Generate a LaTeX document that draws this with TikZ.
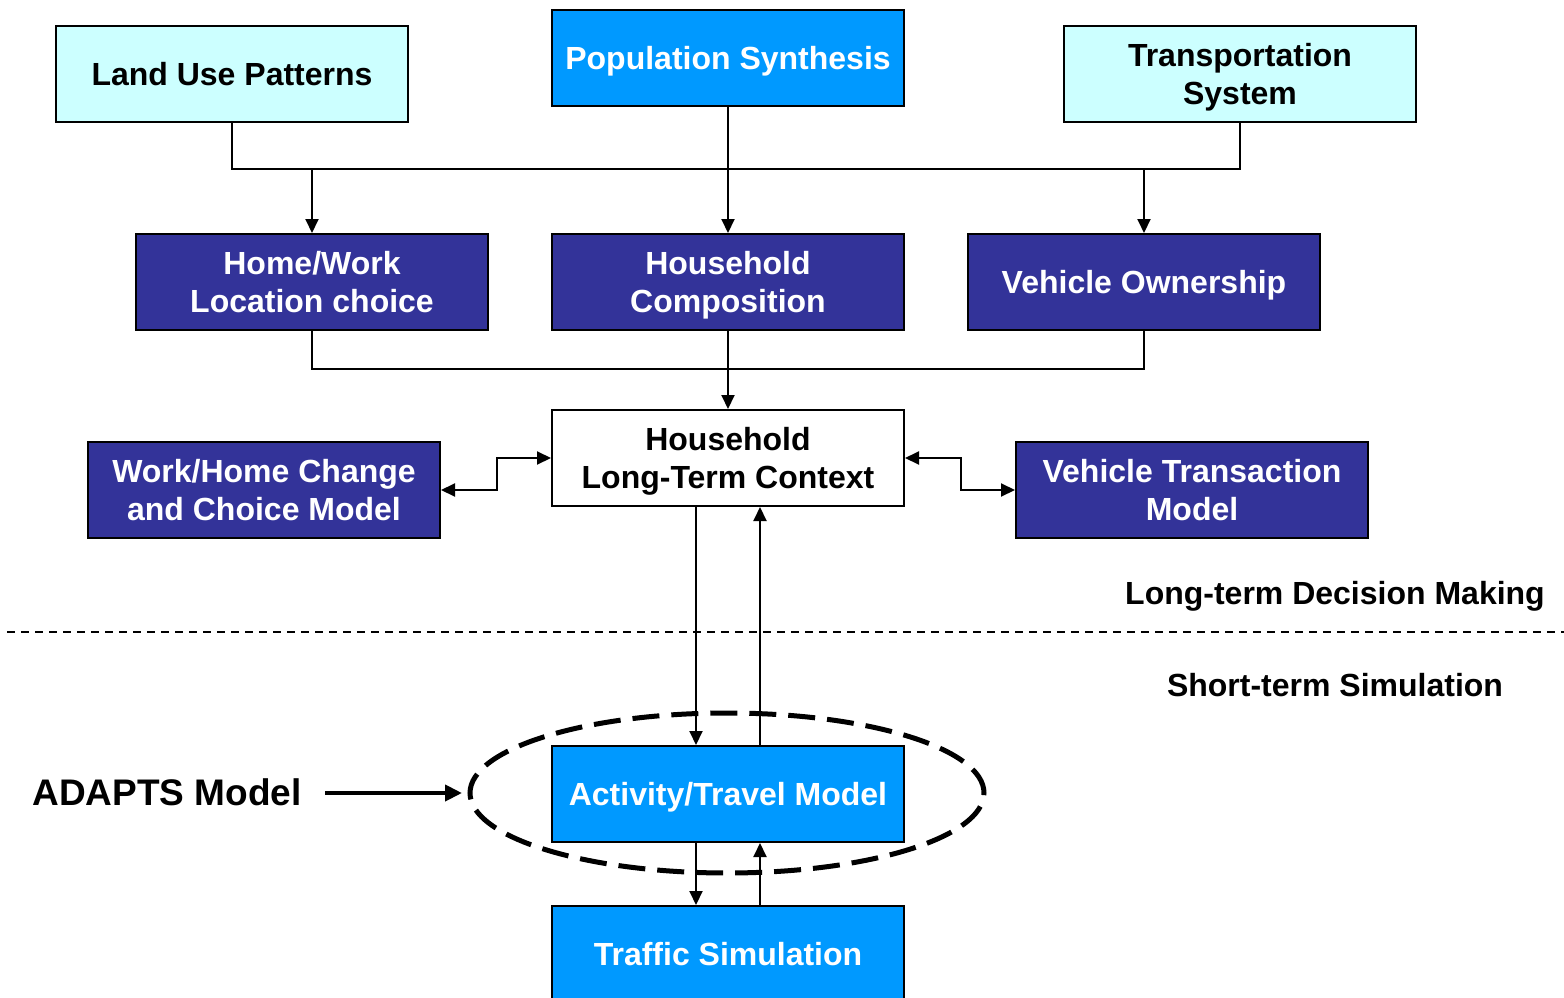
\documentclass[tikz,border=0pt]{standalone}
\usepackage{fontspec}
\setmainfont{Liberation Sans}
\usetikzlibrary{arrows.meta}
\definecolor{inputfill}{HTML}{CCFFFF}
\definecolor{simfill}{HTML}{0099FF}
\definecolor{modelfill}{HTML}{333399}
% fixed line box so that text sits at the same height with or without descenders
\newcommand\linestrut{\rule[-0.212em]{0pt}{1.117em}}
\begin{document}
\begin{tikzpicture}[x=1pt,y=-1pt,
  box/.style={draw=black, line width=2pt, minimum width=352pt, minimum height=96pt,
    inner sep=0pt, align=center, anchor=north west,
    font=\fontsize{32}{38}\selectfont\bfseries,
    execute at begin node=\linestrut, execute at end node=\linestrut},
  twoline/.style={text depth=0pt},
  inputbox/.style={box, fill=inputfill, text=black},
  simbox/.style={box, fill=simfill, text=white},
  modelbox/.style={box, fill=modelfill, text=white},
  ctxbox/.style={box, fill=white, text=black},
  wire/.style={draw=black, line width=2pt},
  arr/.style={wire, -{Triangle[length=14pt,width=13pt]}},
  biarr/.style={wire, {Triangle[length=14pt,width=13pt]}-{Triangle[length=14pt,width=13pt]}},
  lbl/.style={font=\fontsize{32}{38}\selectfont\bfseries, text=black, inner sep=0pt,
    execute at begin node=\linestrut}
]
\useasboundingbox (0,0) rectangle (1564,998);

% dashed outline marking the ADAPTS part
\draw[line width=5pt, dash pattern=on 27pt off 12pt] (727,793) ellipse [x radius=257pt, y radius=80pt];

% inputs
\node[inputbox] (lu) at (55,25) {Land Use Patterns};
\node[simbox] (ps) at (551,9) {Population Synthesis};
\node[inputbox, twoline] (ts) at (1063,25) {Transportation\\System};

% long-term models
\node[modelbox, twoline] (hw) at (135,233) {Home/Work\\Location choice};
\node[modelbox, twoline] (hc) at (551,233) {Household\\Composition};
\node[modelbox] (vo) at (967,233) {Vehicle Ownership};

\node[ctxbox, twoline] (ctx) at (551,409) {Household\\Long-Term Context};
\node[modelbox, twoline] (wh) at (87,441) {Work/Home Change\\and Choice Model};
\node[modelbox, twoline] (vt) at (1015,441) {Vehicle Transaction\\Model};

% short-term simulation
\node[simbox] (act) at (551,745) {Activity/Travel Model};
\node[simbox] (tr) at (551,905) {Traffic Simulation};

% upper distribution bus
\coordinate (bus) at (727,169);
\draw[wire] (lu.south) |- (bus);
\draw[wire] (ts.south) |- (bus);
\draw[arr] (hw.north |- bus) -- (hw.north);
\draw[arr] (ps.south) -- (hc.north);
\draw[arr] (vo.north |- bus) -- (vo.north);

% lower collection bus
\coordinate (bus2) at (727,369);
\draw[wire] (hw.south) |- (bus2);
\draw[wire] (vo.south) |- (bus2);
\draw[arr] (hc.south) -- (ctx.north);

% exchanges with the context
\draw[biarr] (wh.east) -- ++(56,0) |- (ctx.west);
\draw[biarr] (ctx.east) -- ++(56,0) |- (vt.west);

\draw[arr] ([xshift=-32pt]ctx.south) -- ([xshift=-32pt]act.north);
\draw[arr] ([xshift=32pt]act.north) -- ([xshift=32pt]ctx.south);
\draw[arr] ([xshift=-32pt]act.south) -- ([xshift=-32pt]tr.north);
\draw[arr] ([xshift=32pt]tr.north) -- ([xshift=32pt]act.south);

% divider between the two layers
\coordinate (divL) at (7,632);
\coordinate (divR) at (1564,632);
\draw[line width=2pt, dash pattern=on 8pt off 6pt] (divL) -- (divR);
\node[lbl] (lt) at (1335,593) {Long-term Decision Making};
\node[lbl] (st) at (1335,685) {Short-term Simulation};

% ADAPTS label
\node[font=\fontsize{37}{44}\selectfont\bfseries, inner sep=0pt,
  execute at begin node=\linestrut] (adapts) at (167,793) {ADAPTS Model};
\coordinate (adaptsTip) at (462,793);
\draw[line width=4pt, -{Triangle[length=17pt,width=16pt]}] (325,793) -- (adaptsTip);
\end{tikzpicture}
\end{document}
